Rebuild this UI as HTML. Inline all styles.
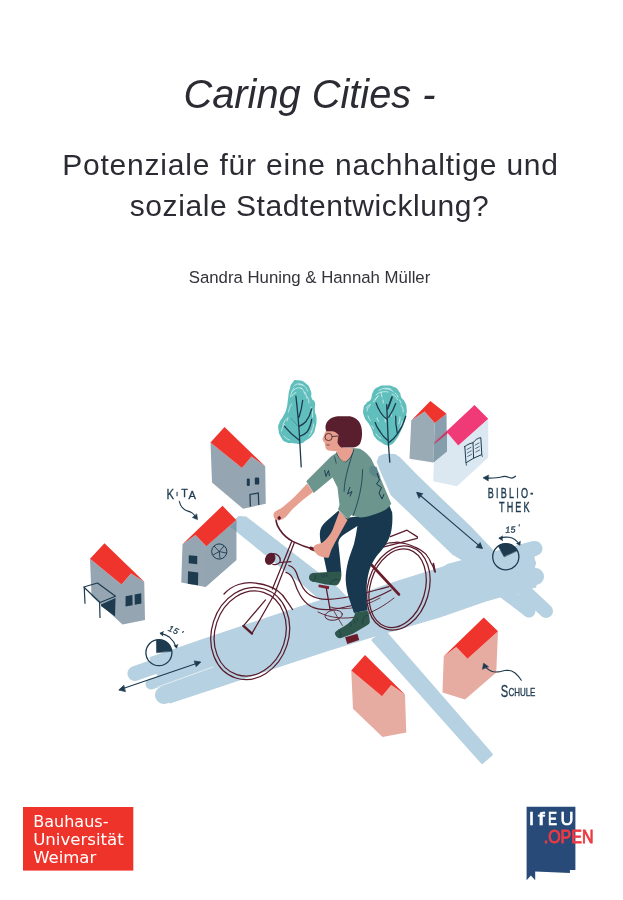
<!DOCTYPE html>
<html lang="de">
<head>
<meta charset="utf-8">
<title>Caring Cities - Potenziale für eine nachhaltige und soziale Stadtentwicklung?</title>
<style>
  html, body { margin: 0; padding: 0; background: #ffffff; }
  body { width: 623px; height: 900px; position: relative; overflow: hidden;
         font-family: "Liberation Sans", sans-serif; color: #2b2b33; }
  .t { will-change: transform; position: absolute; left: 0; width: 623px; text-align: center; white-space: nowrap; margin: 0; font-weight: normal; }
  #title { top: 72px; left: -2px; font-size: 39.8px; line-height: 44px; font-style: italic; }
  #sub1 { top: 146.5px; left: -1px; font-size: 30px; line-height: 36px; letter-spacing: 0.8px; }
  #sub2 { top: 187.5px; left: -2.5px; font-size: 30px; line-height: 36px; letter-spacing: 0.57px; }
  #auth { top: 267.7px; left: -2.5px; font-size: 16.8px; line-height: 20px; color: #33333a; }
  #art { will-change: transform; position: absolute; left: 0; top: 0; width: 623px; height: 900px; }
  .hand { font-family: "Liberation Sans", sans-serif; fill: #1d3a4f; stroke: #1d3a4f; }
</style>
</head>
<body>
<h1 class="t" id="title">Caring Cities -</h1>
<h2 class="t" id="sub1">Potenziale für eine nachhaltige und</h2>
<h2 class="t" id="sub2">soziale Stadtentwicklung?</h2>
<p class="t" id="auth">Sandra Huning &amp; Hannah Müller</p>

<svg id="art" viewBox="0 0 623 900" width="623" height="900">
  <!-- ROADS -->
  <g id="roads" fill="#b6d1e1" stroke="#b6d1e1" stroke-linecap="round" stroke-linejoin="round">
    <!-- main road body -->
    <path d="M150 657.5 L210 637 L298 607.5 L322 600 L347 598.5 L395 582 L462 561 L533 541.5 L536 587 L486 601 L440 617 L372 637 L330 650 L290 663 L217 687.5 L170 703 Z" stroke-width="1"/>
    <!-- main road brush strokes (left ends) -->
    <path d="M135 673.5 L250 633" fill="none" stroke-width="15"/>
    <path d="M151 684 L260 652" fill="none" stroke-width="11"/>
    <path d="M164 695 L290 653.5" fill="none" stroke-width="18"/>
    <path d="M157 687.3 L213 667" fill="none" stroke="#ffffff" stroke-width="0.8" opacity="0.75"/>
    <!-- main road brush strokes (right ends) -->
    <path d="M450 571 L535 548.5" fill="none" stroke-width="15"/>
    <path d="M450 585 L530.5 563" fill="none" stroke-width="11"/>
    <path d="M450 603 L535.5 576.5" fill="none" stroke-width="17"/>
    <!-- road A (from KITA house) -->
    <path d="M236 519 L239 516.8 L246 517.3 L338 588.6 L348 599 L322 601 L302.4 583.8 L260 549.8 L236 530.5 Z" stroke-width="1.5"/>
    <!-- road B (from tree to clock) -->
    <path d="M377.7 461.5 L379.5 457 L385 454.8 L395 455 L399 457.8 L418.2 477.1 L442.2 500.4 L470 527 L493 551.3 L527.5 585 L505 597.5 L465 561 L453 553.8 L434.2 535.7 L410.1 512.4 L391.7 494.8 L380 468 Z" stroke-width="2"/>
    <path d="M500 568 L546 611" fill="none" stroke-width="14"/>
    <path d="M495 585 L529 611" fill="none" stroke-width="13"/>
    <!-- road C (thin, lower right) -->
    <path d="M385 632 L491.4 754.4 L482.2 762.4 L373 640 Z" stroke-width="3"/>
  </g>
  <!-- HOUSES -->
  <g id="houses">
    <!-- house 1 (top, grey with door) -->
    <path d="M210.5 442.5 L242 468 L251.5 456.5 L265.2 466.3 L265.8 503.75 L243 508.75 L212 482.5 Z" fill="#95a6b2"/>
    <path d="M210.5 442.5 L224.5 427 L265.2 466.3 L251.5 456.5 L242 468 Z" fill="#ef342d"/>
    <g fill="#1d3a4f">
      <rect x="246.8" y="478.6" width="3" height="7.4" rx="1"/>
      <rect x="254.8" y="477.4" width="4.4" height="7.2" rx="1.2"/>
    </g>
    <path d="M250.3 506.5 L250 494.5 L258.3 493 L258.8 505" fill="none" stroke="#1d3a4f" stroke-width="1.25"/>
    <!-- house 2 (KITA) -->
    <path d="M182.5 544.25 L195.5 535 L206.25 546.25 L236.25 520 L236.25 560 L205.5 587 L181.25 582.5 Z" fill="#95a6b2"/>
    <path d="M206.25 546.25 L236.25 520 L236.25 560 L205.5 587 Z" fill="#93a5b1"/>
    <path d="M229.6 527 L236.25 521.2 L236.25 531.3 Z" fill="#7f9aab"/>
    <path d="M182.5 544.25 L222.5 505.75 L236.25 520 L206.25 546.25 L195.5 535 Z" fill="#ef342d"/>
    <circle cx="219.25" cy="551.5" r="7.6" fill="none" stroke="#1d3a4f" stroke-width="1"/>
    <path d="M219.25 551.5 L214 546 M219.25 551.5 L224 546 M219.25 551.5 L226 553 M219.25 551.5 L220 558.5 M219.25 551.5 L213 555" fill="none" stroke="#1d3a4f" stroke-width="0.9"/>
    <g fill="#1d3a4f">
      <path d="M188.8 555.2 L197.3 556 L197.2 564.2 L188.7 563.2 Z"/>
      <path d="M188 571.2 L198.2 572.4 L198 585.2 L187.8 583.8 Z"/>
    </g>
    <!-- house 3 (left, carport) -->
    <path d="M90 558.75 L121.5 584.5 L131 573.5 L144.25 581.75 L145 620 L122.5 624.5 L91.5 596 Z" fill="#95a6b2"/>
    <path d="M90 558.75 L104.5 543.25 L144.25 581.75 L131 573.5 L121.5 584.5 Z" fill="#ef342d"/>
    <g fill="#1d3a4f">
      <path d="M125.6 596.3 L132.4 595 L132.6 605.2 L125.5 606.5 Z"/>
      <path d="M134.6 594.6 L141.2 593.2 L141.4 603.4 L134.8 604.8 Z"/>
      <path d="M101 604.5 L115.5 598 L115 616.5 L101 606 Z"/>
    </g>
    <path d="M83.75 587 L97.5 583 L115.5 596.25 L100 602.5 Z M84.25 587.5 L85 603.75 M99.6 602.5 L100 618" fill="none" stroke="#1d3a4f" stroke-width="1.2" stroke-linejoin="round"/>
    <!-- house 5 (library) -->
    <path d="M434.5 443.75 L447.75 433.25 L458.25 445.5 L488.25 418.75 L488.25 457.5 L457 486.25 L433.25 481.25 Z" fill="#dbe8f1"/>
    <!-- house 4 (grey, top right) -->
    <path d="M411.25 420.5 L424.6 411.6 L434.8 423.1 L433.25 462.5 L409.5 458.75 Z" fill="#9babb6"/>
    <path d="M434.8 423.1 L446.5 413.75 L447 451.25 L433.25 462.5 Z" fill="#8a9fad"/>
    <path d="M434.3 444 L447 433.6 L447 451.25 L433.6 462.3 Z" fill="#859eac"/>
    <path d="M411.25 420.5 L430.4 401 L446.5 413.75 L434.8 423.1 L424.6 411.6 Z" fill="#ef342d"/>
    <path d="M434.5 442.5 L474.5 405 L488.25 418.75 L458.25 445.5 L447.75 433.25 Z" fill="#f03a77"/>
    <path d="M434.5 442.5 L446.9 430.9 L447 433.9 L434.5 444 Z" fill="#c43f69"/>
    <!-- house 6 (Schule) -->
    <path d="M443.75 656.25 L456.25 647 L467.5 658.75 L498 631.25 L496.25 672.5 L465 699.5 L442.5 692.5 Z" fill="#e6aca1"/>
    <path d="M443.75 656.25 L483.75 617.5 L498 631.25 L467.5 658.75 L456.25 647 Z" fill="#ef342d"/>
    <!-- house 7 (bottom) -->
    <path d="M351.25 670.5 L382 696.25 L391.25 685 L405 694.5 L406.25 732.5 L382.5 737 L353 708.75 Z" fill="#e6aca1"/>
    <path d="M351.25 670.5 L365 655 L405 694.5 L391.25 685 L382 696.25 Z" fill="#ef342d"/>
  </g>
  <!-- TREES -->
  <g id="trees">
    <!-- tree 1 -->
    <path d="M297.5 380.3 C301.5 380.6 301.9 380.2 305.9 383.4 C309.9 386.5 309.0 386.4 310.7 390.8 C312.4 395.2 310.4 394.7 311.7 398.2 C313.0 401.7 313.9 398.7 314.9 402.5 C315.9 406.3 314.4 406.2 314.9 410.9 C315.4 415.6 316.4 413.2 316.5 418.3 C316.6 423.4 316.7 422.7 315.4 427.8 C314.1 432.9 315.1 431.4 312.2 435.2 C309.3 439.0 309.4 438.0 305.9 440.5 C302.4 443.0 303.8 442.7 300.6 443.6 C297.4 444.5 297.8 443.8 295.3 443.6 C292.8 443.5 295.1 443.6 292.2 443.1 C289.3 442.7 289.1 443.8 285.8 442.1 C282.5 440.4 283.3 441.3 281.1 437.3 C278.9 433.3 278.9 433.3 278.4 428.9 C277.9 424.5 278.1 426.3 279.5 422.5 C280.9 418.7 281.1 420.3 283.2 416.2 C285.3 412.1 285.0 413.9 286.4 408.8 C287.8 403.7 287.1 405.0 288.0 399.3 C288.9 393.6 288.1 394.9 289.5 389.8 C290.9 384.7 290.3 385.2 292.7 382.4 C295.1 379.5 293.5 380.0 297.5 380.3 Z" fill="#60bfbc"/>
    <path d="M299 384.5 C303 384 306.5 387 307.5 391 M301 388 C303 389 304.5 391.5 304.5 394 M290.5 397 C291 393 292.5 390 294 388 M288.5 412 C289 409 290 406 291.5 404 M283 425 C284 421.5 286 419 288 417.5 M284 436 C285.5 438 287.5 439.5 289.5 440 M311 407 C312.5 410 313 413.5 312.5 417 M313.5 424 C313.5 427 312.5 430 311 432 M307.5 397 C308.5 399 309 401 309 403" fill="none" stroke="#d6f0ee" stroke-width="0.9" stroke-linecap="round" opacity="0.85"/>
    <path d="M295.9 396.1 C297.5 410 298.8 424 299.6 438.4 L301.2 466.9 M299.6 440.5 C294 436.5 288.5 431.5 284.3 426.2 M300.1 436.2 C303 435 305.5 433.5 307 432 C309.5 428.5 311 424 311.7 419.4 M299.6 426.2 C302 425 304.2 423.4 305.9 421.5 C308.6 418 310.6 413.5 311.7 408.8 M299 417.2 C300.8 412 302 406.5 302.7 400.3" fill="none" stroke="#1d3a4f" stroke-width="1.3" stroke-linecap="round"/>
    <path d="M298.5 426.7 L291.1 418.3" fill="none" stroke="#1d3a4f" stroke-width="0.5" stroke-linecap="round" opacity="0.6"/>
    <path d="M294 386 C296 383.5 300 383 303 385 M293 391 C295 388 299 387 302 388.5 M292 396 C293 394 294.5 393 296 392.5 M305 392 C306 394 306.5 396 306.5 398 M281.5 431 C282 428 283 426 284.5 424.5 M287 421 L288 418.5 M309 436 C310.5 434.5 311.5 433 312 431" fill="none" stroke="#e4f5f4" stroke-width="0.9" stroke-linecap="round" opacity="0.8"/>
    <!-- tree 2 -->
    <path d="M385.6 385.6 C390.4 385.6 390.0 385.2 394.1 387.1 C398.2 389.0 397.2 388.7 399.4 391.9 C401.6 395.1 399.9 394.8 401.5 397.7 C403.1 400.6 403.0 398.1 404.6 401.4 C406.2 404.7 406.4 404.1 406.7 408.8 C407.0 413.5 406.6 412.5 405.7 417.2 C404.8 421.9 405.2 420.2 403.6 424.6 C402.0 429.0 402.6 427.6 400.4 432.0 C398.2 436.4 399.1 435.6 396.2 439.4 C393.3 443.2 393.8 443.0 390.9 444.7 C388.0 446.4 389.6 445.8 386.7 445.2 C383.8 444.6 384.9 445.0 381.4 442.6 C377.9 440.2 378.0 441.1 375.1 437.3 C372.2 433.5 373.8 434.0 371.9 429.9 C370.0 425.8 370.9 427.4 368.7 423.6 C366.5 419.8 366.1 421.6 364.5 417.2 C362.9 412.8 362.8 413.1 363.4 408.8 C364.0 404.5 364.4 405.9 366.6 403.0 C368.8 400.1 368.9 402.6 370.8 399.3 C372.7 396.0 370.8 395.6 373.0 391.9 C375.2 388.2 374.4 389.0 378.2 387.1 C382.0 385.2 380.8 385.6 385.6 385.6 Z" fill="#60bfbc"/>
    <path d="M381 392 C381.3 394 381.5 395.5 382 397 M385 389 C388 388.5 391 389.5 393 391.5 M395 393 C396.5 394 397.5 395.5 398 397 M375.5 400 C376 398 377 396.5 378.5 395.5 M367 411 C367.5 408.5 368.5 406.5 370 405.5 M368 416 C368.5 418 369.5 419.5 370.5 420.5 M377 418 C377.3 419.5 377.8 420.5 378.5 421.5 M401 405 C402.5 407 403.3 409.5 403.2 412 M399.5 400 C400.2 401 400.7 402 401 403 M376 434 C377.5 436 379 437.5 381 438.5 M385 419 L385.5 422 M391 413 L391 416 M400 417 C400 420 399.5 422 398.5 424" fill="none" stroke="#d6f0ee" stroke-width="1" stroke-linecap="round" opacity="0.85"/>
    <path d="M386.7 404.6 L388.3 442.6 L389.8 462.1 M387.2 419.4 C384.5 417.5 382 415 380.3 412 C378.5 409 377 406 376.1 403 M388.3 441 C385 438.5 382.3 435.5 380.3 432 C378 429 376.3 426 375.1 422.5 M388.8 417.2 C391.5 413 394 408.5 395.7 403.5 M388.8 442.6 C392 440.5 395 437.5 397.2 434.1 C401 428.8 403.8 422.8 405.7 416.2 M397.2 432.6 C396 427 395.5 421.5 395.7 416.2" fill="none" stroke="#1d3a4f" stroke-width="1.3" stroke-linecap="round"/>
    <path d="M387.7 408.8 L392 397.2" fill="none" stroke="#1d3a4f" stroke-width="1.8" stroke-linecap="round"/>
    <path d="M379 390.5 C382 388 387 387.5 391 389 M376 395 C379 392 384 391 388 392 M373.5 402 C374.5 399.5 376 398 378 397 M392 394 C394.5 395 396.5 397 397.5 399.5 M366.5 408 C367.5 406 369 404.8 370.5 404.5 M372 426 L373.5 428.5 M402 421 C402 423.5 401.3 425.5 400 427 M383 400 L383.3 403" fill="none" stroke="#e4f5f4" stroke-width="0.9" stroke-linecap="round" opacity="0.8"/>
  </g>
  <!-- BIKE + PERSON -->
  <g id="rider">
    <!-- bike (behind rider) -->
    <g fill="none" stroke="#5a1b2c" stroke-width="1.25" stroke-linecap="round" stroke-linejoin="round">
      <!-- front wheel -->
      <ellipse cx="250.2" cy="633.5" rx="38.6" ry="46.8" transform="rotate(18 250.2 633.5)"/>
      <ellipse cx="250.2" cy="633.5" rx="35.2" ry="43.2" transform="rotate(18 250.2 633.5)"/>
      <path d="M224 594 C229 588.5 234 586 238.5 584.5 C245 582.5 252 582.3 257.8 583.5 C266 584.8 272 587 277 590.2 C281 593 284.5 597 286.7 600.8 C289 604 291 607 292.5 609.5" stroke-width="1.3"/>
      <!-- fork -->
      <path d="M276.1 591.2 L252 633.4 M265.5 599.9 L243.4 625.9"/>
      <path d="M243.4 625.9 L252 633.6" stroke-width="2.4"/>
      <!-- head tube -->
      <path d="M291.6 541.8 L272.4 589 M294.4 542.6 L275.8 590.4"/>
      <!-- handlebar -->
      <path d="M279.1 516.4 C276.5 517.5 275.8 519.5 276.2 521.5 C276.6 524 277.8 527 280 530 C283 534.5 287.5 538.5 292.6 541.4 C298 544 305 547 312.9 549.1" stroke-width="1.6"/>
      <path d="M311 548.3 L316.7 550.3" stroke-width="3.4" stroke="#6a1c2b"/>
      <path d="M278.4 516.8 L280.6 514.4" stroke-width="2.4"/>
      <!-- headlight -->
      <ellipse cx="270.2" cy="558.8" rx="4.3" ry="5.7" fill="#5a1b2c" transform="rotate(28 270.2 558.8)"/>
      <path d="M273 553.5 C277.5 553.5 280.5 557 280.3 560.5 C280 563.5 277 565 273 564.5 M279.5 562.5 L290.8 561.7"/>
      <!-- frame swoops -->
      <path d="M288.8 565.5 C293 566.5 295 569 296.5 573 C298 578 299.4 581 301 584 C303 588.5 306 592.5 310 595 C315 598 321 599.5 328 599.3 C336 599 342 598.5 350 596.5 C363 594 376 590 388.9 586.6"/>
      <path d="M285.9 572.3 C290 573.5 292.5 577 294 581 C295.5 585.5 297.4 590.6 300 595 C302.5 599.5 306 603.5 311 606.5 C316 609 322 610 330 609.5 C338 609 344 607.5 352 605.5 C366 602 380 596 391.1 590"/>
      <path d="M326.3 588.2 L330.2 610.1"/>
      <path d="M334 611.3 L342.4 625.5" stroke-width="0.8"/>
      <ellipse cx="333.7" cy="615.2" rx="8.7" ry="5" stroke-width="0.9" transform="rotate(-8 333.7 615.2)"/>
      <path d="M318 612 C330 618 345 620 360 616 C372 613 384 606 394 598" stroke-width="0.9"/>
      <path d="M330 607 C345 611 362 608 380 598" stroke-width="0.8"/>
      <!-- rear wheel -->
      <ellipse cx="398.4" cy="588" rx="30.5" ry="43" transform="rotate(16.6 398.4 588)"/>
      <ellipse cx="397.6" cy="588.2" rx="27.4" ry="40.2" transform="rotate(16.6 397.6 588.2)"/>
      <path d="M369.5 562.7 C371.5 559.3 370.7 558.3 375.5 552.5 C380.3 546.7 378.1 548.6 383.9 545.3 C389.7 542.0 386.7 543.3 393.0 542.6 C399.3 541.9 395.9 541.9 402.7 543.2 C409.5 544.5 406.8 543.6 413.5 546.5 C420.2 549.4 418.1 548.3 422.9 551.8 C427.7 555.3 425.1 553.4 427.8 557.0 C430.5 560.6 429.1 559.4 430.9 562.7 C432.7 566.0 432.0 564.1 433.2 567.0 C434.4 569.9 434.1 569.9 434.5 571.4" stroke-width="1.2"/>
      <path d="M433.4 563.5 L435.2 572 L433.8 566" stroke-width="1.6"/>
      <!-- rack -->
      <path d="M390.4 536.7 L407 530.2 L417.4 536.9 L417.2 538.3 L381 547.6"/>
      <!-- stay -->
      <path d="M369.8 563 L399 594.5" stroke-width="2.6" stroke="#6a1c2b"/>
    </g>
    <!-- pedals -->
    <path d="M318.8 584.4 L329.3 586.2 L328.7 589.3 L318.3 587.1 Z" fill="#7a2233"/>
    <path d="M345.1 637.2 L357.4 633.8 L359.2 640.1 L347.3 643.9 Z" fill="#6a1c2b"/>
    <!-- pants -->
    <path d="M338.3 510.7 L326 521.5 C322 525 320 529 319.9 532.7 C319.6 537 320.5 541 321.5 546.2 L325.5 565.3 L327.1 572.7 L341.2 572 L339.9 557.4 L338.3 542.8 C339 538.5 341.5 536 345.1 533.8 L357.4 526 C356.5 532 355.5 538 354 543.9 C352 550 349.5 556 348 561.9 C346.5 568 345.6 574 345.7 579.9 C345.9 586 347.2 592 348.9 597.9 L354 613.1 L367.5 610.2 C366.6 604 366.2 597.5 366.4 591.1 C366.7 584 367.3 577 369.1 570.9 C370.8 565.5 373.3 560.8 376.5 556.3 C379.5 552.5 383 549 385.5 545.1 C388.5 540.5 390.8 535 391.6 529.3 C392.5 523.5 392.6 518 392.2 512.5 L388.9 504.6 L368.7 514.7 L346.2 518.1 Z" fill="#17384e"/>
    <!-- shoes -->
    <path d="M309.1 576.5 C309.8 574.5 311 573.5 312.5 573.1 L328.2 572 L341.2 571.6 C341.6 574.5 341.4 577.5 340.6 579.9 C339.6 582.5 338.2 584.6 336.1 585.5 L326 584.4 L314.7 582.1 C312 581.5 310.5 580.8 309.8 579.9 C309 579 308.8 577.6 309.1 576.5 Z" fill="#2f574b"/>
    <path d="M334.9 632.7 C336.5 630.5 338.5 629.5 340.6 628.2 C345 626 349 623.5 351.8 620.3 C353.5 618 354.6 615.5 355.2 612.5 L367.5 610.4 C369 614.5 369.9 618.5 369.8 622.6 C368.8 624.6 366.5 626 364.2 627.1 L352.9 633.8 L340.6 638.3 C338.5 638.6 336.8 637.6 336.1 636.1 C335.3 635 334.7 633.8 334.9 632.7 Z" fill="#2f574b"/>
    <path d="M321.2 574.1 L322.5 577.3 M323.7 573.9 L325 576.7 M326.3 573.5 L327.2 576.4 M330.2 583.7 C332.1 579.3 337.2 578 339.2 580.5 M315.4 575.4 C316 578 314.8 580.5 312.8 581.2 M350.1 622.3 L351.3 626.1 M353.9 619.7 L355.2 622.9 M356.5 617.8 L357.8 620.3 M362.9 624.2 C361.6 619 364.2 615.2 368 615.2 M338.5 630 C341.1 631.9 341.7 635.1 339.8 637" fill="none" stroke="#17384e" stroke-width="0.7" stroke-linecap="round"/>
    <!-- back forearm (skin) -->
    <path d="M307.2 483.5 L295.1 496.2 C291 500 286.5 504 282.3 507.4 C279.5 509 276.5 510.5 274.6 512 C273.6 513.2 273.3 514.6 273.5 516 C273.8 517.6 274.6 518.8 275.6 519.6 C276.7 520.3 278 520.6 279.1 520.4 C280.6 520.2 282 519.6 283.2 518.8 C284.8 517.8 286.1 516.6 287.1 515.4 L292.7 509 L301.5 501 L313 492 Z" fill="#e7a08f"/>
    <path d="M277.2 517.8 L279.4 515.8 L281.2 518 L279 520.2 Z" fill="#5a1b2c"/>
    <!-- sweater -->
    <path d="M340 450.5 L331.25 456.25 L306.25 481.25 L313.75 493 L332.5 477.5 L337.5 487.5 L339.5 505 L338 509.5 L348 519.25 L351.25 515 L360 517.5 C364.5 517.3 368.5 516.4 372.5 515 C377 513.6 381 512 385 510 C387.6 508.3 389.6 506.2 391.25 503.75 L381.25 480 L371.25 458.75 C368 454.5 364.5 451 360 448.75 L353 448 Z" fill="#6c958d"/>
    <!-- sweater shading / lines -->
    <path d="M353.5 449 C352.5 454.5 349.5 459.5 345.5 461.8 C341 460.5 338 457 336.5 452.5" fill="none" stroke="#17384e" stroke-width="0.9"/>
    <path d="M353.5 450 C350 462 346.5 472 345 482 C344.3 487 344.2 489.5 344.1 491.7" fill="none" stroke="#17384e" stroke-width="0.8"/>
    <path d="M362.6 469.2 C362.5 485 358.5 502 353 515.8" fill="none" stroke="#17384e" stroke-width="0.8"/>
    <path d="M369 467.5 C371 465.5 373.5 465.5 376.5 467 L380.5 477.5 C377 478 372.5 476.5 369.5 473 Z" fill="#5b878b"/>
    <path d="M334.5 456.5 L336.3 463.5" fill="none" stroke="#17384e" stroke-width="0.7"/>
    <path d="M324.5 470 L326 476.5 L328.5 470.5 L329.5 476" fill="none" stroke="#17384e" stroke-width="0.9"/>
    <path d="M350 487 L347.5 494 L352 491.5 L350 496.5" fill="none" stroke="#17384e" stroke-width="0.9"/>
    <path d="M377 473 L379.5 480 L376.5 484 L381.5 487.5 L379 493 L382 499 L384 494" fill="none" stroke="#17384e" stroke-width="1"/>
    <!-- front forearm (skin) -->
    <path d="M339.5 511.25 L332.5 530 C330 535 326.5 539.5 322.5 542.5 L315 545 C313.6 546.5 313.3 548.3 313.75 550 C315 553 317.5 555 320 556.25 C323 557.5 326 558 328.75 557.5 L331.25 550 L335 542.5 L347.5 520 Z" fill="#e7a08f"/>
    <!-- neck + face -->
    <path d="M335 447 L337.5 454.5 C339.5 459 343 462 345.5 461.5 C349.5 459 352.5 454 353.5 448.5 Z" fill="#e7a08f"/>
    <path d="M325.5 431.25 L322.5 438.75 C322.8 440.5 323.5 441.5 324.5 442.5 L325.5 447.5 C326 449.2 327.2 450.2 328.75 450.5 L335 451.25 L341.25 449.5 L344 444 L342 434 L332.5 430 Z" fill="#e7a08f"/>
    <!-- hair -->
    <path d="M325.5 426.25 C326 423.5 327 421.5 328.75 420 C331 417.8 334 416.6 337.5 416.25 L350 416.25 C353.5 417 356.5 418.8 358.75 421.25 C361 424.5 362 428.5 362 432.5 C362.2 436.5 361.5 440.5 360 443.75 C358.5 446.2 355.5 447.3 352.5 447.5 L341.25 447.5 C339.5 446.2 338 444.5 337.5 442.5 C337.5 440 338 437.5 338.75 435 C337 433 335 431.8 332.5 431.25 L326.25 431.25 C325.6 429.6 325.3 428 325.5 426.25 Z" fill="#5a1f2e"/>
    <!-- glasses -->
    <circle cx="328.6" cy="437" r="3.6" fill="none" stroke="#3a1a26" stroke-width="0.8"/>
    <path d="M332.2 436.5 L338.5 436" fill="none" stroke="#3a1a26" stroke-width="0.8"/>
    <path d="M326.5 444.6 C327.5 445.2 328.6 445.2 329.6 444.8" fill="none" stroke="#3a1a26" stroke-width="0.7"/>
  </g>
  <!-- LABELS -->
  <g id="labels" fill="none" stroke="#1d3a4f" stroke-width="1.1" stroke-linecap="round" stroke-linejoin="round">
    <!-- KITA -->
    <text class="hand" stroke-width="0.35" y="498.6"><tspan x="166.6" font-size="14.4" textLength="7.6" lengthAdjust="spacingAndGlyphs">K</tspan><tspan x="176.2" y="495.8" font-size="6">I</tspan><tspan x="181.3" y="496.7" font-size="10.6" textLength="6.6" lengthAdjust="spacingAndGlyphs">T</tspan><tspan x="188.5" y="498.9" font-size="11.6" textLength="7.4" lengthAdjust="spacingAndGlyphs">A</tspan></text>
    <path d="M179.3 501.3 C180 504 181 506 182.1 507.3 C183.5 509 185.3 510.2 187.3 510.9 C189 511.4 190.8 512 192.1 512.9 C193.6 514 194.8 515.5 195.7 517.3"/>
    <path d="M192.6 517.6 L197.5 519.6 L196.8 514.2 Z" fill="#1d3a4f" stroke-width="0.6"/>
    <!-- clock 1 -->
    <circle cx="158.9" cy="652.7" r="13" stroke-width="1.3"/>
    <path d="M156.6 652.4 L156.4 639.9 A13 13 0 0 1 171.7 650.9 Z" fill="#1d3a4f" stroke-width="0.6"/>
    <path d="M160.5 633.4 C164 634 167 635.3 169.7 637.3 C172.8 640 175 643.5 176.3 647.4"/>
    <path d="M163.4 631.6 L159.9 633.3 L163 636" fill="#1d3a4f" stroke-width="0.7"/>
    <path d="M174 645.6 L176.6 648 L177.8 644.4" fill="#1d3a4f" stroke-width="0.7"/>
    <text class="hand" x="167.6" y="630.6" font-size="8.6" font-style="italic" stroke-width="0.3" letter-spacing="0.6" transform="rotate(24 167.6 630.6)">15<tspan dx="2.6">'</tspan></text>
    <!-- arrow 1 -->
    <path d="M119.5 689.7 L200 662.3"/>
    <path d="M123.6 685.5 L118.8 690 L125.2 691.6 Z" fill="#1d3a4f" stroke-width="0.7"/>
    <path d="M194.5 661 L200.7 662 L196.4 666.4 Z" fill="#1d3a4f" stroke-width="0.7"/>
    <!-- arrow 2 (road B) -->
    <path d="M417.4 493 L481.7 547.8"/>
    <path d="M422.5 493.6 L416.6 492.3 L418.9 498 Z" fill="#1d3a4f" stroke-width="0.7"/>
    <path d="M476.4 547.4 L482.5 548.5 L480.2 542.8 Z" fill="#1d3a4f" stroke-width="0.7"/>
    <!-- book icon -->
    <path d="M464.8 446.5 L466 462.8 L473.6 458.2 L481.8 454.6 L480.8 437.6 C477.5 438.2 475 440 473 442.8 C470.5 443.2 467.5 444.5 464.8 446.5 Z M473 442.8 L473.6 458.2" stroke-width="1"/>
    <path d="M467 449.5 L471 447.3 M467.3 453 L471.3 450.8 M467.6 456.5 L471.6 454.3 M475.3 445 L479 443 M475.6 448.5 L479.3 446.5 M475.9 452 L479.6 450" stroke-width="0.7"/>
    <path d="M466 462.8 L466.4 465.2 M481.8 454.6 L482.3 456.5" stroke-width="0.8"/>
    <!-- BIBLIO-THEK -->
    <path d="M515.4 476.2 C513 478.5 510.5 478.3 508.5 477.3 C506 476 503.5 476 501 477 C497.5 478.3 492 478 485.2 478.1" stroke-width="1.2"/>
    <path d="M488.4 475.2 L483 477.8 L488 480.8 Z" fill="#1d3a4f" stroke-width="0.6"/>
    <text class="hand" font-size="14.6" stroke-width="0.45" letter-spacing="3.6" transform="translate(487.7 497.5) scale(0.62 1)">BIBLIO-</text>
    <text class="hand" font-size="14.6" stroke-width="0.45" letter-spacing="3.4" transform="translate(499 512.2) scale(0.62 1)">THEK</text>
    <!-- clock 2 -->
    <circle cx="505.8" cy="556.7" r="13.1" stroke-width="1.3"/>
    <path d="M504 556.6 L498.2 545.9 A13.1 13.1 0 0 1 517.2 550.4 Z" fill="#1d3a4f" stroke-width="0.6"/>
    <path d="M499.6 538.2 C502.6 537.2 506 536.9 509.1 537.3 C513 538 516.6 540.3 519.4 544.2"/>
    <path d="M502.6 536 L498.8 538.2 L502.6 540.6" fill="#1d3a4f" stroke-width="0.7"/>
    <path d="M516.6 543.6 L520 545.2 L520.2 541.2" fill="#1d3a4f" stroke-width="0.7"/>
    <text class="hand" x="505.6" y="533" font-size="8.8" font-style="italic" stroke-width="0.3" letter-spacing="0.4" transform="rotate(-4 505.6 533)">15<tspan dx="2.2" dy="-1.6">'</tspan></text>
    <!-- SCHULE -->
    <text class="hand" y="696.6" stroke-width="0.35"><tspan x="500.8" font-size="16.4" textLength="7.4" lengthAdjust="spacingAndGlyphs">S</tspan><tspan x="508.4" y="696.2" font-size="10.6" textLength="27" lengthAdjust="spacingAndGlyphs">CHULE</tspan></text>
    <path d="M521.3 680.3 C519.5 677.5 517.5 675 515.1 673 C512.5 671 510 670.2 507.2 670.2 C504 670.3 501 671.5 498.2 671.9 C495.5 672.3 492.8 672 490.4 670.7 C488 669.5 486 667.8 484.7 665.7"/>
    <path d="M482.5 669 L483.6 663.2 L488.3 666.6 Z" fill="#1d3a4f" stroke-width="0.6"/>
  </g>
  <!-- LOGOS -->
  <g id="logos">
    <!-- Bauhaus-Universität Weimar -->
    <rect x="23" y="807" width="110.3" height="63.6" fill="#ee342a"/>
    <g font-family="'DejaVu Sans', 'Liberation Sans', sans-serif" font-size="16" fill="#ffffff">
      <text x="33.2" y="826.5" textLength="75.3" lengthAdjust="spacingAndGlyphs">Bauhaus-</text>
      <text x="33.2" y="844.5" textLength="90.6" lengthAdjust="spacingAndGlyphs">Universität</text>
      <text x="33.2" y="862.6" textLength="63" lengthAdjust="spacingAndGlyphs">Weimar</text>
    </g>
    <!-- IfEU.OPEN -->
    <path d="M526.6 806.8 L575.4 806.8 L575.4 870 L569.9 870 L569.9 873 L535.2 871.5 L535.2 880.2 L530.9 875.4 L526.6 880.2 Z" fill="#284a78"/>
    <text y="825.3" font-family="'Liberation Sans', sans-serif" font-size="18" fill="#ffffff" stroke="#ffffff" stroke-width="0.7"><tspan x="528.9">I</tspan><tspan x="537.9" textLength="6.6" lengthAdjust="spacingAndGlyphs">f</tspan><tspan x="548.1" textLength="9" lengthAdjust="spacingAndGlyphs">E</tspan><tspan x="560.4">U</tspan></text>
    <text x="543.8" y="843.4" font-family="'Liberation Sans', sans-serif" font-size="17.7" fill="#ee3a42" stroke="#ee3a42" stroke-width="0.9" textLength="49.6" lengthAdjust="spacingAndGlyphs">.OPEN</text>
  </g>
</svg>
</body>
</html>
